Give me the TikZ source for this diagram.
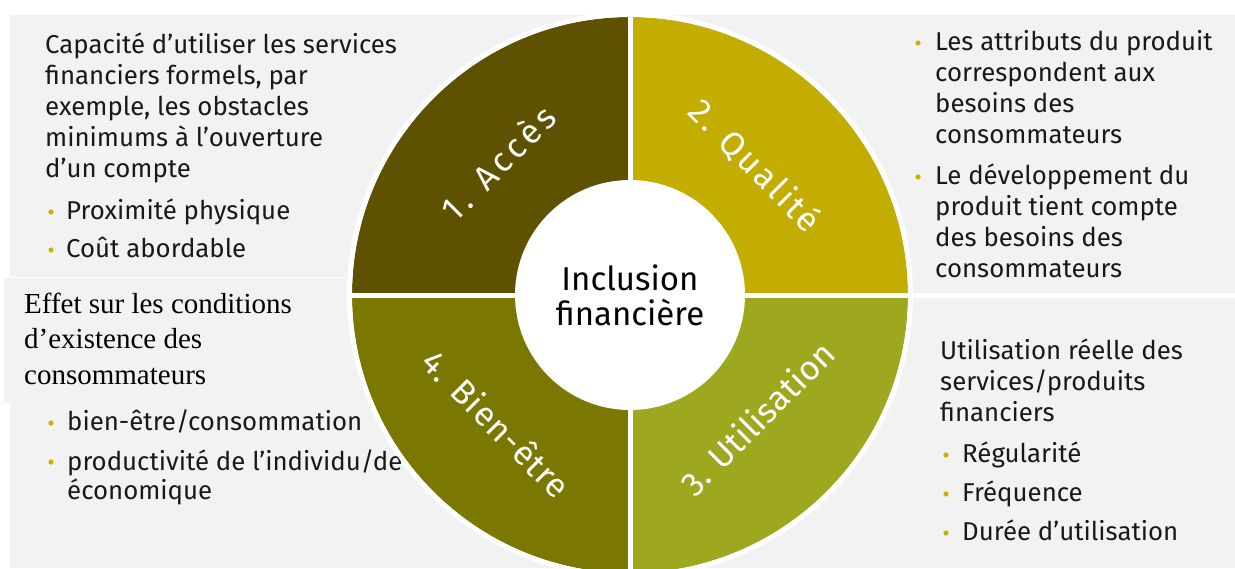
\documentclass[tikz,border=0pt]{standalone}
\usepackage{fontspec}
\usetikzlibrary{calc}
\setmainfont{Liberation Serif}
\newfontfamily\bodyf{Fira Sans}
\newfontfamily\labA[LetterSpace=12]{Fira Sans}
\newfontfamily\labB[LetterSpace=8]{Fira Sans}
\newfontfamily\labC[LetterSpace=1]{Fira Sans}
\newfontfamily\labD[LetterSpace=3]{Fira Sans}
\definecolor{panel}{HTML}{F2F2F2}
\definecolor{acces}{HTML}{5E5200}
\definecolor{qual}{HTML}{C2AD00}
\definecolor{util}{HTML}{9EA81E}
\definecolor{bien}{HTML}{7A7800}
\definecolor{dotc}{HTML}{C8B400}
\newcommand{\mylines}[1]{\parbox[t]{420pt}{\raggedright #1}}
\tikzset{
  txt/.style={anchor=base west, inner sep=0pt, text=black!90,
    font=\bodyf\fontsize{25.8}{31}\selectfont},
  serif/.style={anchor=base west, inner sep=0pt,
    font=\rmfamily\fontsize{29}{35.5}\selectfont},
  seglab/.style={inner sep=0pt, text=white},
  bdot/.style={fill=dotc},
}
\begin{document}
\begin{tikzpicture}[x=1pt,y=1pt]
\useasboundingbox (0,0) rectangle (1235,-568);
% panels
\fill[panel] (10,-15) rectangle (627,-292.5);
\fill[panel] (633,-15) rectangle (1235,-292.5);
\fill[panel] (10,-298) rectangle (627,-568);
\fill[panel] (633,-298) rectangle (1235,-568);
% top-left text
\node[txt] (tl) at (45,-53) {\mylines{Capacité d’utiliser les services\\financiers formels, par\\exemple, les obstacles\\minimums à l’ouverture\\d’un compte}};
\fill[bdot] (51,-212) circle (2.6);
\node[txt] (tl1) at (66,-219) {Proximité physique};
\fill[bdot] (51,-250) circle (2.6);
\node[txt] (tl2) at (66,-257) {Coût abordable};
% top-right text
\fill[bdot] (918,-43) circle (2.6);
\node[txt] (tr1) at (935,-50) {\mylines{Les attributs du produit\\correspondent aux\\besoins des\\consommateurs}};
\fill[bdot] (918,-177) circle (2.6);
\node[txt] (tr2) at (935,-184) {\mylines{Le développement du\\produit tient compte\\des besoins des\\consommateurs}};
% bottom-right text
\node[txt] (br) at (940,-359) {\mylines{Utilisation réelle des\\services/produits\\financiers}};
\fill[bdot] (946,-455) circle (2.6);
\node[txt] (br1) at (962,-462) {Régularité};
\fill[bdot] (946,-494) circle (2.6);
\node[txt] (br2) at (962,-501) {Fréquence};
\fill[bdot] (946,-533) circle (2.6);
\node[txt] (br3) at (962,-540) {Durée d’utilisation};
% bottom-left
\fill[panel] (4,-278) rectangle (353,-403);
\draw[white,line width=1pt] (10,-277.5) -- (353,-277.5);
\node[serif] (bl) at (24,-313) {\mylines{Effet sur les conditions\\d’existence des\\consommateurs}};
\fill[bdot] (51,-423) circle (2.6);
\node[txt] (bl1) at (67,-430) {bien-être/consommation};
\fill[bdot] (51,-462) circle (2.6);
\node[txt,font=\bodyf\fontsize{25.8}{29}\selectfont] (bl2) at (67,-470) {\mylines{productivité de l’individu/de\\économique}};
% ring
\coordinate (c) at (630,-295);
\fill[acces] (c) -- ++(-278,0) arc[start angle=180,end angle=90,radius=278] -- cycle;
\fill[qual] (c) -- ++(0,278) arc[start angle=90,end angle=0,radius=278] -- cycle;
\fill[util] (c) -- ++(278,0) arc[start angle=0,end angle=-90,radius=278] -- cycle;
\fill[bien] (c) -- ++(0,-278) arc[start angle=270,end angle=180,radius=278] -- cycle;
\draw[white,line width=5pt] (c) circle (280.5);
\draw[white,line width=5pt] ([xshift=-281]c) -- ([xshift=281]c);
\draw[white,line width=5pt] ([yshift=281]c) -- ([yshift=-290]c);
\node[circle,fill=white,minimum size=230pt,inner sep=0pt,align=center,
  font=\bodyf\fontsize{33}{35}\selectfont] (incl) at (c) {Inclusion\\financière};
% labels
\node[seglab,rotate=45,font=\labA\fontsize{34}{34}\selectfont] (l1) at ($(c)+(135:187)$) {1. Accès};
\node[seglab,rotate=-45,font=\labB\fontsize{34}{34}\selectfont] (l2) at ($(c)+(46:180)$) {2. Qualité};
\node[seglab,rotate=45,font=\labC\fontsize{34}{34}\selectfont] (l3) at ($(c)+(-44:177)$) {3. Utilisation};
\node[seglab,rotate=-45,font=\labD\fontsize{34}{34}\selectfont] (l4) at ($(c)+(224:185)$) {4. Bien-être};
\end{tikzpicture}
\end{document}
